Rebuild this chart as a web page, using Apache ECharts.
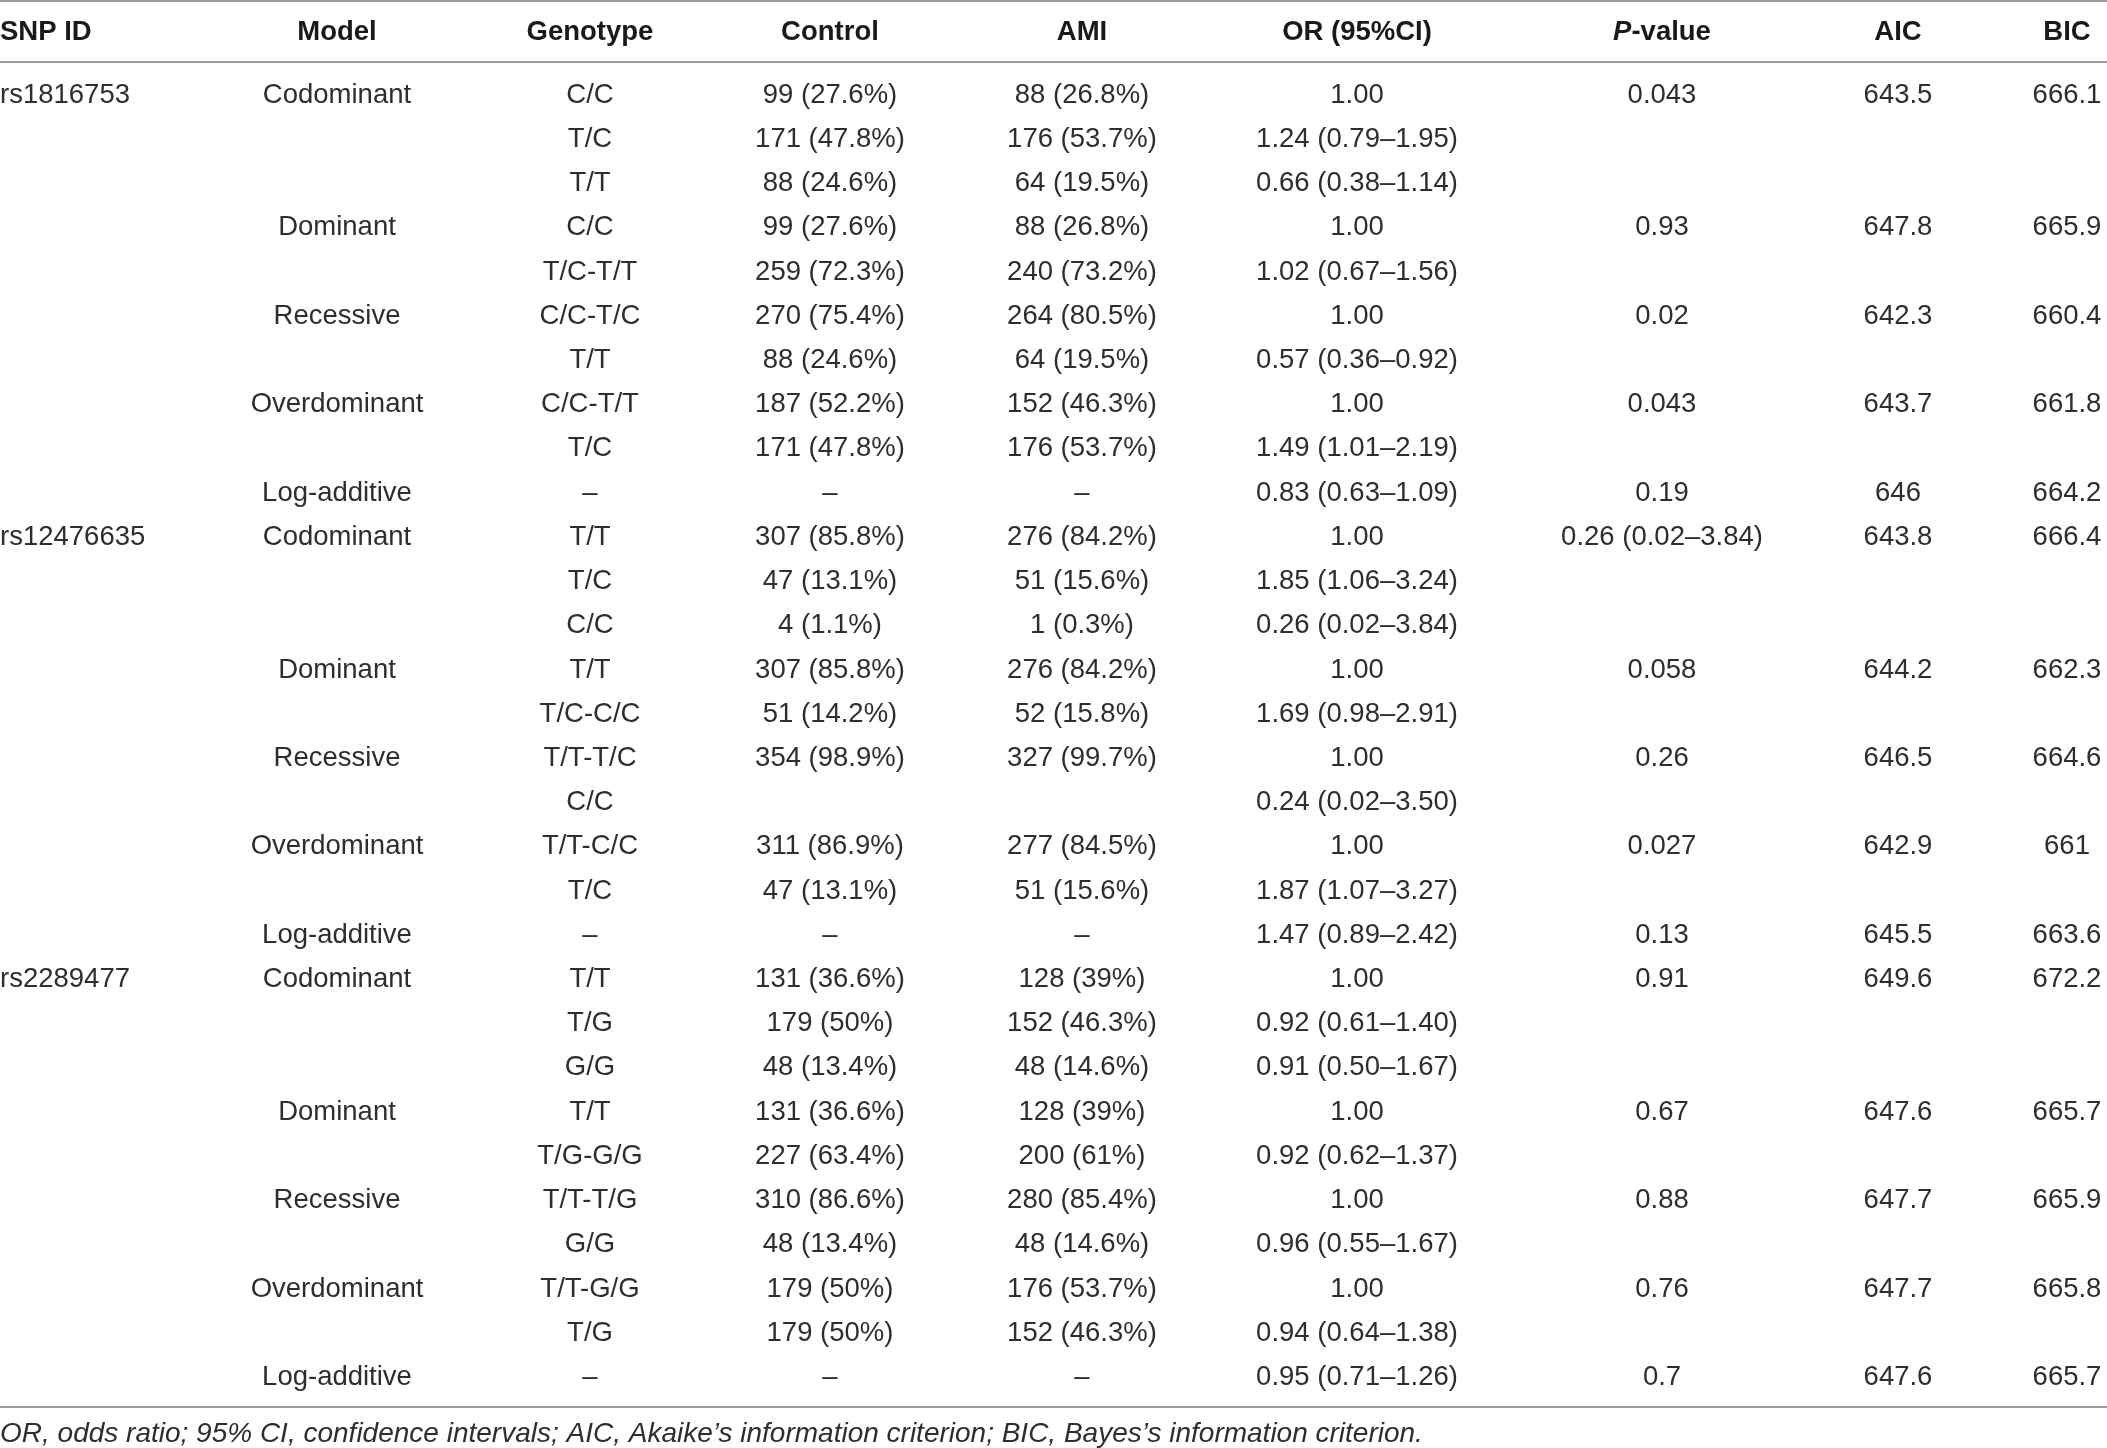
<!DOCTYPE html>
<html>
<head>
<meta charset="utf-8">
<script src="https://cdn.jsdelivr.net/npm/echarts@6/dist/echarts.min.js"></script>
<style>
html,body{margin:0;padding:0;background:#fff;}
#main{width:2107px;height:1448px;}
</style>
</head>
<body>
<div id="main"></div>
<script>
// table columns
var columns = ['SNP ID', 'Model', 'Genotype', 'Control', 'AMI', 'OR (95%CI)', 'P-value', 'AIC', 'BIC'];

// one entry per table row, '' = empty cell
var snpIds = [
    'rs1816753', '', '', '', '', '', '', '', '', '',
    'rs12476635', '', '', '', '', '', '', '', '', '',
    'rs2289477', '', '', '', '', '', '', '', '', ''
];
var models = [
    'Codominant', '', '', 'Dominant', '', 'Recessive', '', 'Overdominant', '', 'Log-additive',
    'Codominant', '', '', 'Dominant', '', 'Recessive', '', 'Overdominant', '', 'Log-additive',
    'Codominant', '', '', 'Dominant', '', 'Recessive', '', 'Overdominant', '', 'Log-additive'
];
var genotypes = [
    'C/C', 'T/C', 'T/T', 'C/C', 'T/C-T/T', 'C/C-T/C', 'T/T', 'C/C-T/T', 'T/C', '–',
    'T/T', 'T/C', 'C/C', 'T/T', 'T/C-C/C', 'T/T-T/C', 'C/C', 'T/T-C/C', 'T/C', '–',
    'T/T', 'T/G', 'G/G', 'T/T', 'T/G-G/G', 'T/T-T/G', 'G/G', 'T/T-G/G', 'T/G', '–'
];
var controlCounts = [
    '99 (27.6%)', '171 (47.8%)', '88 (24.6%)', '99 (27.6%)', '259 (72.3%)', '270 (75.4%)', '88 (24.6%)', '187 (52.2%)', '171 (47.8%)', '–',
    '307 (85.8%)', '47 (13.1%)', '4 (1.1%)', '307 (85.8%)', '51 (14.2%)', '354 (98.9%)', '', '311 (86.9%)', '47 (13.1%)', '–',
    '131 (36.6%)', '179 (50%)', '48 (13.4%)', '131 (36.6%)', '227 (63.4%)', '310 (86.6%)', '48 (13.4%)', '179 (50%)', '179 (50%)', '–'
];
var amiCounts = [
    '88 (26.8%)', '176 (53.7%)', '64 (19.5%)', '88 (26.8%)', '240 (73.2%)', '264 (80.5%)', '64 (19.5%)', '152 (46.3%)', '176 (53.7%)', '–',
    '276 (84.2%)', '51 (15.6%)', '1 (0.3%)', '276 (84.2%)', '52 (15.8%)', '327 (99.7%)', '', '277 (84.5%)', '51 (15.6%)', '–',
    '128 (39%)', '152 (46.3%)', '48 (14.6%)', '128 (39%)', '200 (61%)', '280 (85.4%)', '48 (14.6%)', '176 (53.7%)', '152 (46.3%)', '–'
];
var orValues = [
    '1.00', '1.24 (0.79–1.95)', '0.66 (0.38–1.14)', '1.00', '1.02 (0.67–1.56)', '1.00', '0.57 (0.36–0.92)', '1.00', '1.49 (1.01–2.19)', '0.83 (0.63–1.09)',
    '1.00', '1.85 (1.06–3.24)', '0.26 (0.02–3.84)', '1.00', '1.69 (0.98–2.91)', '1.00', '0.24 (0.02–3.50)', '1.00', '1.87 (1.07–3.27)', '1.47 (0.89–2.42)',
    '1.00', '0.92 (0.61–1.40)', '0.91 (0.50–1.67)', '1.00', '0.92 (0.62–1.37)', '1.00', '0.96 (0.55–1.67)', '1.00', '0.94 (0.64–1.38)', '0.95 (0.71–1.26)'
];
var pValues = [
    '0.043', '', '', '0.93', '', '0.02', '', '0.043', '', '0.19',
    '0.26 (0.02–3.84)', '', '', '0.058', '', '0.26', '', '0.027', '', '0.13',
    '0.91', '', '', '0.67', '', '0.88', '', '0.76', '', '0.7'
];
var aicValues = [
    '643.5', '', '', '647.8', '', '642.3', '', '643.7', '', '646',
    '643.8', '', '', '644.2', '', '646.5', '', '642.9', '', '645.5',
    '649.6', '', '', '647.6', '', '647.7', '', '647.7', '', '647.6'
];
var bicValues = [
    '666.1', '', '', '665.9', '', '660.4', '', '661.8', '', '664.2',
    '666.4', '', '', '662.3', '', '664.6', '', '661', '', '663.6',
    '672.2', '', '', '665.7', '', '665.9', '', '665.8', '', '665.7'
];
var footnote = 'OR, odds ratio; 95% CI, confidence intervals; AIC, Akaike’s information criterion; BIC, Bayes’s information criterion.';

// layout: column anchor on the x axis and text alignment
var colX = [0, 337, 590, 830, 1082, 1357, 1662, 1898, 2067];
var colAlign = ['left', 'center', 'center', 'center', 'center', 'center', 'center', 'center', 'center'];
var cellCols = [snpIds, models, genotypes, controlCounts, amiCounts, orValues, pValues, aicValues, bicValues];

var fontFamily = '"Liberation Sans", Arial, Helvetica, sans-serif';
var textColor = '#2e2e2e';
var headColor = '#1a1a1a';
var ruleColor = '#9a9a9a';

var rowIdx = [];
for (var i = 0; i < snpIds.length; i++) rowIdx.push(String(i));

var myChart = echarts.init(document.getElementById('main'));

var series = [];
for (var c = 0; c < columns.length; c++) {
    var data = [];
    for (var r = 0; r < cellCols[c].length; r++) {
        if (cellCols[c][r] !== '') data.push([colX[c], r, cellCols[c][r]]);
    }
    series.push({
        name: columns[c],
        type: 'custom',
        silent: true,
        renderItem: (function (align) {
            return function (params, api) {
                var pt = api.coord([api.value(0), api.value(1)]);
                return {
                    type: 'text',
                    x: pt[0],
                    y: pt[1],
                    style: {
                        text: api.value(2),
                        fontFamily: fontFamily,
                        fontSize: 27.5,
                        fill: textColor,
                        align: align,
                        verticalAlign: 'middle'
                    }
                };
            };
        })(colAlign[c]),
        encode: { x: 0, y: 1 },
        dimensions: ['x', 'row', { name: 'text', type: 'ordinal' }],
        data: data
    });
}

var graphics = [
    { type: 'line', shape: { x1: 0, y1: 1, x2: 2107, y2: 1 }, style: { stroke: ruleColor, lineWidth: 2 } },
    { type: 'line', shape: { x1: 0, y1: 62, x2: 2107, y2: 62 }, style: { stroke: ruleColor, lineWidth: 2 } },
    { type: 'line', shape: { x1: 0, y1: 1407, x2: 2107, y2: 1407 }, style: { stroke: ruleColor, lineWidth: 2 } },
    {
        type: 'text', x: 0, y: 1434,
        style: {
            text: footnote, fontFamily: fontFamily, fontSize: 28, fontStyle: 'italic',
            fill: textColor, align: 'left', verticalAlign: 'middle'
        }
    }
];

option = {
    backgroundColor: '#fff',
    animation: false,
    grid: { left: 0, right: 0, top: 73, bottom: 48.5 },
    xAxis: { type: 'value', min: 0, max: 2107, show: false },
    yAxis: { type: 'category', data: rowIdx, inverse: true, show: false },
    series: series,
    graphic: graphics
};
myChart.setOption(option);

// header cells, placed with the same x scale as the body
var headers = [];
for (var h = 0; h < columns.length; h++) {
    var hx = myChart.convertToPixel({ xAxisIndex: 0 }, colX[h]);
    var isP = columns[h] === 'P-value';
    headers.push({
        type: 'text', x: hx, y: 32,
        style: {
            text: isP ? '{i|P}{b|-value}' : columns[h],
            rich: isP ? {
                i: { fontFamily: fontFamily, fontSize: 27.5, fontWeight: 'bold', fontStyle: 'italic', fill: headColor },
                b: { fontFamily: fontFamily, fontSize: 27.5, fontWeight: 'bold', fill: headColor }
            } : undefined,
            fontFamily: fontFamily, fontSize: 27.5, fontWeight: 'bold',
            fill: headColor, align: colAlign[h], verticalAlign: 'middle'
        }
    });
}
myChart.setOption({ graphic: graphics.concat(headers) });
</script>
</body>
</html>
